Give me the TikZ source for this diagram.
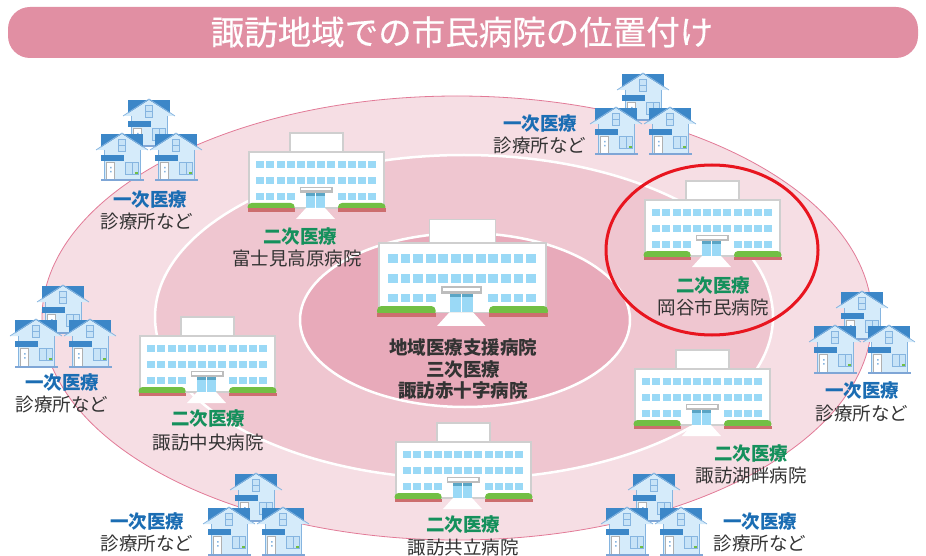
\documentclass[tikz,border=0pt]{standalone}
\usepackage{fontspec}
\setmainfont{Noto Sans CJK JP}
\newfontfamily\headfont[FakeBold=0.4]{Noto Sans CJK JP}

\definecolor{titlepink}{HTML}{E18FA3}
\definecolor{ringouter}{HTML}{F6DEE4}
\definecolor{ringline}{HTML}{E27A97}
\definecolor{ringmid}{HTML}{EFC6D0}
\definecolor{ringinner}{HTML}{E8AABA}
\definecolor{wallgray}{HTML}{CFCFCF}
\definecolor{winblue}{HTML}{9AD9F6}
\definecolor{doorblue}{HTML}{5AA5C5}
\definecolor{canopygray}{HTML}{BDBDBD}
\definecolor{hedgegreen}{HTML}{72BF44}
\definecolor{hedgered}{HTML}{CC6E6E}
\definecolor{roofblue}{HTML}{3C87C8}
\definecolor{wallblue}{HTML}{D5EBFA}
\definecolor{trimblue}{HTML}{86B5E0}
\definecolor{glassblue}{HTML}{C7E3F7}
\definecolor{groundblue}{HTML}{7FA6D6}
\definecolor{doorgray}{HTML}{B0B0B0}
\definecolor{markred}{HTML}{E8151F}
\definecolor{careagreen}{HTML}{15905C}
\definecolor{careblue}{HTML}{1B6DB3}
\definecolor{darktext}{HTML}{333333}

\tikzset{
  grade/.style={font=\fontsize{18.5}{20}\selectfont\bfseries},
  grade1/.style={grade, text=careblue},
  grade2/.style={grade, text=careagreen},
  grade3/.style={grade, text=darktext},
  place/.style={font=\fontsize{18.5}{20}\selectfont, text=darktext},
  % one small house, origin at the bottom middle of its wall
  house/.pic={
    \fill[roofblue] (-21,-47) rectangle (21,-31);
    \fill[wallblue] (-25,-31) -- (0,-47) -- (25,-31) -- cycle;
    \draw[trimblue, line width=0.8] (-26,-31) -- (0,-48) -- (26,-31);
    \fill[wallblue] (-18,-32) rectangle (18,0);
    \draw[trimblue, line width=0.6] (-18,-31) -- (-18,0) (18,-31) -- (18,0);
    \fill[trimblue] (-4,-42) rectangle (4,-29);
    \fill[glassblue] (-3,-41) rectangle (3,-30);
    \draw[trimblue, line width=0.5] (-3,-35.5) -- (3,-35.5);
    \fill[roofblue] (-21,-26) rectangle (2,-20);
    \fill[doorgray] (-16,-19) rectangle (-7,-1);
    \fill[white] (-15,-18) rectangle (-8,-1);
    \fill[trimblue] (-12,-14) rectangle (-10.5,-12.5) (-12,-10) rectangle (-10.5,-8.5);
    \fill[trimblue] (3,-19) rectangle (17,-6);
    \fill[glassblue] (4,-18) rectangle (16,-7);
    \draw[trimblue, line width=0.6] (10,-18) -- (10,-7);
    \fill[hedgegreen] (13,-9) rectangle (15.5,-7);
    \fill[groundblue] (-21,-1.5) rectangle (22,0.5);
  },
  % three houses: one behind, two in front
  houses/.pic={
    \pic at (0,-34) {house};
    \pic at (-27,0) {house};
    \pic at (27,0) {house};
  },
  % hospital, origin at the top left corner of the main block
  hospital/.pic={
    \filldraw[fill=white, draw=wallgray, line width=1.2] (41,-19) rectangle (94,0);
    \filldraw[fill=white, draw=wallgray, line width=1.2] (0,0) rectangle (135,56);
    \foreach \r in {9,25}
      \foreach \c in {0,...,11}
        \fill[winblue] ({7.3+10.15*\c},\r) rectangle ++(8,7);
    \foreach \c in {0,1,2,3,8,9,10,11}
      \fill[winblue] ({7.3+10.15*\c},41) rectangle ++(8,7);
    \fill[canopygray] (50.5,35) rectangle (83.5,41);
    \fill[white] (52,36) rectangle (82,38.5);
    \fill[winblue] (57,41) rectangle (76,56);
    \fill[doorblue] (57,41) rectangle (76,44);
    \draw[white, line width=0.8] (66.5,41) -- (66.5,56);
    \fill[white] (57,56) -- (76,56) -- (86,67) -- (47,67) -- cycle;
    \fill[hedgegreen, rounded corners=4] (-1.5,59) rectangle (45.7,51);
    \fill[hedgered] (-1.5,56.5) rectangle (45.7,59.7);
    \fill[hedgegreen, rounded corners=4] (89,59) rectangle (136.5,51);
    \fill[hedgered] (89,56.5) rectangle (136.5,59.7);
  }
}

\begin{document}
\begin{tikzpicture}[x=1pt,y=-1pt]
  \useasboundingbox (0,0) rectangle (926,556);

  % title bar
  \fill[titlepink, rounded corners=22] (8,7) rectangle (918,58);
  \node[text=white, font=\headfont\fontsize{33.5}{35}\selectfont] (title) at (462,32) {諏訪地域での市民病院の位置付け};

  % care rings
  \filldraw[fill=ringouter, draw=ringline, line width=0.8] (457,318) ellipse [x radius=415, y radius=222];
  \filldraw[fill=ringmid, draw=white, line width=2.5] (464,317) ellipse [x radius=309, y radius=162];
  \filldraw[fill=ringinner, draw=white, line width=2.5] (465,320) ellipse [x radius=165, y radius=87];

  % clinics
  \pic at (149,181) {houses};
  \pic at (643,155) {houses};
  \pic at (63,367) {houses};
  \pic at (862,373) {houses};
  \pic at (256,555) {houses};
  \pic at (654,555) {houses};

  \node[grade1] (c1a) at (150,199) {一次医療};
  \node[place] (c1b) at (147,221) {診療所など};
  \node[grade1] (c2a) at (540,123) {一次医療};
  \node[place] (c2b) at (540,145) {診療所など};
  \node[grade1] (c3a) at (62,382) {一次医療};
  \node[place] (c3b) at (62,404) {診療所など};
  \node[grade1] (c4a) at (862,390) {一次医療};
  \node[place] (c4b) at (862,413) {診療所など};
  \node[grade1] (c5a) at (147,521) {一次医療};
  \node[place] (c5b) at (147,543) {診療所など};
  \node[grade1] (c6a) at (760,521) {一次医療};
  \node[place] (c6b) at (760,543) {診療所など};

  % hospitals
  \pic at (249,152) {hospital};
  \node[grade2] (fujimi2) at (300,236) {二次医療};
  \node[place] (fujimi) at (297,258) {富士見高原病院};

  \pic at (645,200) {hospital};
  \node[grade2] (okaya2) at (713,285) {二次医療};
  \node[place] (okaya) at (713,307) {岡谷市民病院};

  \pic at (140,336) {hospital};
  \node[grade2] (chuo2) at (208,418) {二次医療};
  \node[place] (chuo) at (208,442) {諏訪中央病院};

  \pic at (635,369) {hospital};
  \node[grade2] (kohan2) at (751,453) {二次医療};
  \node[place] (kohan) at (751,475) {諏訪湖畔病院};

  \pic at (396,442) {hospital};
  \node[grade2] (kyoritsu2) at (463,524) {二次医療};
  \node[place] (kyoritsu) at (463,547) {諏訪共立病院};

  \pic[scale=1.237] at (379,243) {hospital};
  \node[grade3] (redcross1) at (463,347) {地域医療支援病院};
  \node[grade3] (redcross2) at (463,369) {三次医療};
  \node[grade3] (redcross3) at (463,391) {諏訪赤十字病院};

  % city hospital mark
  \draw[markred, line width=3] (712,250) ellipse [x radius=106, y radius=85];
\end{tikzpicture}
\end{document}
